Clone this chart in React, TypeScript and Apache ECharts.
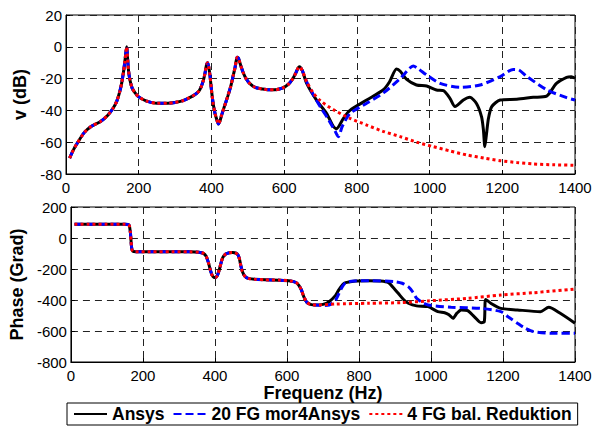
import React, { useEffect, useRef } from "react";
import * as echarts from "echarts";

// ---- Frequency axis ticks ----
const xTicks = [0, 200, 400, 600, 800, 1000, 1200, 1400];

// ---- Magnitude (dB): common part of all three models ----
const magFreqCommon = [10, 20, 30, 50, 70, 95, 115, 130, 140, 148, 153, 158, 162, 165, 167, 169, 172, 176, 182, 190, 200, 220, 250, 280, 300, 320, 340, 355, 365, 372, 378, 382, 385, 387, 389, 392, 396, 400, 405, 410, 415, 419, 423, 428, 435, 445, 453, 460, 465, 468, 471, 474, 477, 481, 487, 495, 505, 520, 540, 555, 575, 595, 612, 624, 632, 638, 642];
const magCommon = [-70, -65, -61, -54, -50, -47, -43, -38.5, -34, -28, -23, -16, -9, -3, 0, -6, -15, -21, -26, -29, -31.5, -34, -35.5, -35.5, -35, -34, -32, -30, -28, -25, -21, -17, -13, -11, -10, -12, -18, -27, -36, -42, -46, -48.5, -47, -43, -38, -31, -25, -18, -13, -9, -6.5, -7, -9, -12, -16, -20, -23, -25.5, -26.5, -27, -27, -26, -23.5, -20, -16.5, -13.5, -12.5];

// ---- Magnitude tails ----
const ansysMagFreq = [650, 662, 689, 717, 735, 744, 763, 781, 827, 873, 890, 909, 920, 937, 964, 992, 1019, 1038, 1056, 1070, 1093, 1111, 1129, 1143, 1148, 1152, 1156, 1162, 1171, 1194, 1240, 1285, 1322, 1349, 1377, 1390, 1400];
const ansysMag = [-15, -23, -33.5, -42, -50, -51.5, -45, -40, -33.5, -27, -22, -14, -15.5, -20.5, -24, -24.7, -27.2, -27.6, -32.4, -37.6, -33.5, -31.8, -35.6, -44, -52, -62.8, -56, -45, -37.6, -33.5, -33, -31.8, -31, -23, -19.2, -18.8, -19.8];

const morMagFreq = [650, 662, 680, 700, 720, 740, 749, 760, 781, 827, 873, 919, 945, 955, 970, 992, 1029, 1084, 1139, 1194, 1230, 1245, 1267, 1322, 1377, 1400];
const morMag = [-15, -22, -30, -38, -45, -53, -56.5, -50, -42, -35.5, -29, -20, -13.5, -12, -14, -17.7, -23, -25.5, -24, -18.8, -14.2, -14.5, -18.5, -27, -32, -33.5];

const balMagFreq = [650, 662, 680, 700, 735, 781, 827, 870, 919, 965, 1010, 1056, 1102, 1150, 1194, 1240, 1285, 1340, 1400];
const balMag = [-15, -22, -29, -34, -39.5, -45, -49.2, -53, -56.5, -60, -62.8, -65.5, -68, -70, -71.6, -72.8, -73.7, -74.2, -74.5];

// ---- Phase (Grad): common part ----
const phFreqCommon = [10, 50, 100, 150, 158, 162, 165, 167, 169, 172, 180, 220, 280, 330, 355, 368, 376, 382, 387, 392, 397, 402, 407, 412, 417, 422, 430, 440, 450, 458, 464, 468, 472, 476, 481, 487, 495, 510, 540, 580, 610, 625, 633, 640, 647, 655, 665, 680];
const phCommon = [88, 88, 88, 88, 87, 80, 40, -20, -70, -86, -88, -88, -88, -89, -92, -99, -120, -160, -205, -240, -254, -255, -240, -205, -160, -125, -103, -95, -94, -98, -110, -135, -180, -215, -240, -255, -262, -266, -270, -272, -277, -287, -305, -335, -380, -415, -428, -432];

// ---- Phase tails ----
const ansysPhFreq = [700, 717, 735, 744, 755, 763, 790, 827, 860, 882, 895, 909, 925, 937, 960, 992, 1019, 1038, 1050, 1061, 1072, 1084, 1102, 1120, 1139, 1148, 1152, 1166, 1194, 1240, 1304, 1327, 1359, 1400];
const ansysPh = [-428, -411, -370, -335, -300, -288, -277, -275, -278, -288, -320, -357, -400, -421, -438, -443, -475, -482, -495, -518, -485, -464, -469, -507, -546, -540, -396, -421, -454, -464, -475, -447, -486, -550];

const morPhFreq = [700, 717, 735, 750, 763, 790, 827, 900, 920, 937, 950, 960, 975, 992, 1056, 1139, 1194, 1215, 1240, 1260, 1285, 1340, 1400];
const morPh = [-435, -432, -400, -330, -288, -277, -275, -282, -292, -314, -350, -389, -415, -432, -447, -454, -475, -510, -550, -580, -604, -615, -615];

const balPhFreq = [689, 735, 827, 919, 992, 1102, 1194, 1285, 1400];
const balPh = [-432, -426, -421, -417, -406, -389, -368, -353, -329];

const seriesNames = ["Ansys", "20 FG mor4Ansys", "4 FG bal. Reduktion"];

const zip = (xs: number[], ys: number[]) => xs.map((x, i) => [x, ys[i]]);

const FONT = "'Liberation Sans', Arial, Helvetica, sans-serif";

export default function App() {
  const ref = useRef<HTMLDivElement>(null);
  useEffect(() => {
    if (!ref.current) return;
    const chart = echarts.init(ref.current, undefined, { renderer: "svg" });

    const magC = zip(magFreqCommon, magCommon);
    const phC = zip(phFreqCommon, phCommon);

    const styles = [
      { color: "#000000", type: "solid" as any, width: 3 },
      { color: "#0000ff", type: [8, 4] as any, width: 3 },
      { color: "#ff0000", type: [3, 3] as any, width: 3 },
    ];

    const magData = [
      magC.concat(zip(ansysMagFreq, ansysMag)),
      magC.concat(zip(morMagFreq, morMag)),
      magC.concat(zip(balMagFreq, balMag)),
    ];
    const phData = [
      phC.concat(zip(ansysPhFreq, ansysPh)),
      phC.concat(zip(morPhFreq, morPh)),
      phC.concat(zip(balPhFreq, balPh)),
    ];

    const mkSeries = (i: number, grid: number, data: number[][]) => ({
      name: seriesNames[i],
      type: "line",
      xAxisIndex: grid,
      yAxisIndex: grid,
      data,
      symbol: "none",
      smooth: 0.25,
      lineStyle: { color: styles[i].color, width: styles[i].width, type: styles[i].type, cap: "butt" },
      itemStyle: { color: styles[i].color },
      z: 2 + i,
    });

    const gridLine = () => ({ show: true, lineStyle: { color: "#222", width: 1, type: [7, 5] } });
    const axisLabel = () => ({ color: "#000", fontSize: 15, fontFamily: FONT, formatter: (v: number) => String(v) });
    const nameStyle = () => ({ color: "#000", fontSize: 18, fontWeight: "bold", fontFamily: FONT });
    const tick = () => ({ show: true, inside: true, length: 4, lineStyle: { color: "#000" } });
    const axisLine = () => ({ show: true, onZero: false, lineStyle: { color: "#000", width: 1 } });

    const mkX = (g: number) => ({
      type: "value",
      gridIndex: g,
      min: 0,
      max: 1400,
      interval: 200,
      axisLine: axisLine(),
      axisTick: tick(),
      axisLabel: { ...axisLabel(), margin: 6 },
      splitLine: gridLine(),
    });

    chart.setOption({
      animation: false,
      backgroundColor: "#ffffff",
      textStyle: { fontFamily: FONT },
      grid: [
        { left: 66, right: 27, top: 15, height: 159, show: true, borderColor: "#000", borderWidth: 1, backgroundColor: "transparent" },
        { left: 66, right: 27, top: 207, height: 155, show: true, borderColor: "#000", borderWidth: 1, backgroundColor: "transparent" },
      ],
      legend: {
        data: seriesNames,
        left: 67,
        top: 403,
        padding: [2, 6, 2, 6],
        itemGap: 8,
        itemWidth: 33,
        itemHeight: 14,
        itemStyle: { opacity: 0 },
        borderColor: "#000",
        borderWidth: 1,
        backgroundColor: "#fff",
        textStyle: { color: "#000", fontSize: 17.5, fontWeight: "bold", fontFamily: FONT },
      },
      xAxis: [
        mkX(0),
        {
          ...mkX(1),
          name: "Frequenz (Hz)",
          nameLocation: "middle",
          nameGap: 21,
          nameTextStyle: nameStyle(),
        },
      ],
      yAxis: [
        {
          type: "value",
          gridIndex: 0,
          min: -80,
          max: 20,
          interval: 20,
          name: "v (dB)",
          nameLocation: "middle",
          nameGap: 33,
          nameTextStyle: nameStyle(),
          axisLine: axisLine(),
          axisTick: tick(),
          axisLabel: { ...axisLabel(), margin: 4 },
          splitLine: gridLine(),
        },
        {
          type: "value",
          gridIndex: 1,
          min: -800,
          max: 200,
          interval: 200,
          name: "Phase (Grad)",
          nameLocation: "middle",
          nameGap: 38,
          nameTextStyle: nameStyle(),
          axisLine: axisLine(),
          axisTick: tick(),
          axisLabel: { ...axisLabel(), margin: 4 },
          splitLine: gridLine(),
        },
      ],
      series: [
        mkSeries(0, 0, magData[0]),
        mkSeries(1, 0, magData[1]),
        mkSeries(2, 0, magData[2]),
        mkSeries(0, 1, phData[0]),
        mkSeries(1, 1, phData[1]),
        mkSeries(2, 1, phData[2]),
      ],
    });

    return () => chart.dispose();
  }, []);

  return <div ref={ref} style={{ width: 602, height: 432, position: "absolute", left: 0, top: 0 }} />;
}
